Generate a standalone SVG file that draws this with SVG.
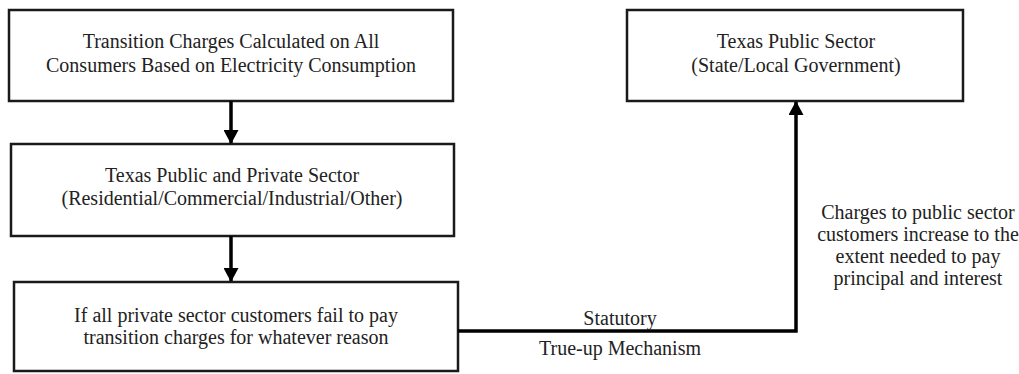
<svg xmlns="http://www.w3.org/2000/svg" width="1019" height="374" viewBox="0 0 1019 374">
<defs>
<marker id="ah" markerWidth="14" markerHeight="15" refX="13" refY="7.5" orient="auto" markerUnits="userSpaceOnUse">
<path d="M0,0 L14,7.5 L0,15 Z" fill="#000"/>
</marker>
<style>
.box{fill:#fff;stroke:#1a1a1a;stroke-width:2.5}
.t{font-family:"Liberation Serif","DejaVu Serif","Times New Roman",serif;font-size:20px;fill:#222;text-anchor:middle}
.c{fill:none;stroke:#000;stroke-width:3.5}
</style>
</defs>
<rect width="1019" height="374" fill="#fff"/>
<g id="n1">
<rect class="box" x="9" y="10" width="444" height="91"/>
<text class="t" x="231" y="48">Transition Charges Calculated on All</text>
<text class="t" x="231" y="72">Consumers Based on Electricity Consumption</text>
</g>
<g id="n2">
<rect class="box" x="11" y="144" width="443" height="92"/>
<text class="t" x="232" y="182">Texas Public and Private Sector</text>
<text class="t" x="232" y="205">(Residential/Commercial/Industrial/Other)</text>
</g>
<g id="n3">
<rect class="box" x="14" y="282" width="444" height="89"/>
<text class="t" x="236" y="322">If all private sector customers fail to pay</text>
<text class="t" x="236" y="344">transition charges for whatever reason</text>
</g>
<g id="n4">
<rect class="box" x="627" y="10" width="336" height="91"/>
<text class="t" x="796" y="48">Texas Public Sector</text>
<text class="t" x="796" y="72">(State/Local Government)</text>
</g>
<g id="connectors">
<line class="c" x1="231" y1="101" x2="231" y2="143" marker-end="url(#ah)"/>
<line class="c" x1="231" y1="236" x2="231" y2="281" marker-end="url(#ah)"/>
<polyline class="c" points="458,331 796,331 796,102" marker-end="url(#ah)"/>
</g>
<g id="labels">
<text class="t" x="620" y="325">Statutory</text>
<text class="t" x="620" y="355">True-up Mechanism</text>
<text class="t" x="918" y="219">Charges to public sector</text>
<text class="t" x="918" y="241">customers increase to the</text>
<text class="t" x="918" y="263">extent needed to pay</text>
<text class="t" x="918" y="285">principal and interest</text>
</g>
</svg>
